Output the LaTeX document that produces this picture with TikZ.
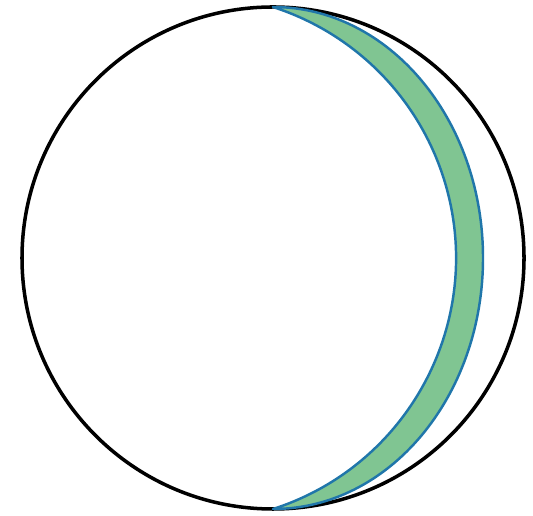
\documentclass[tikz,border=0pt]{standalone}
\usepackage{tikz}
\definecolor{lunefill}{RGB}{128,197,146}
\definecolor{lunedraw}{RGB}{32,118,170}
\begin{document}
\begin{tikzpicture}[x=0.02cm, y=0.02cm]
  \tikzstyle{sphere}=[draw=black, line width=2pt]
  \tikzstyle{lune}=[draw=lunedraw, fill=lunefill, line width=1.4pt, line join=round]
  \useasboundingbox (0,0) rectangle (533,516);

  \coordinate (c) at (273,258);
  \coordinate (top) at (273,509);
  \draw[sphere] (c) circle (251);

  % lune: outer half ellipse, inner circular arc back to the top
  \draw[lune] (top) arc[start angle=90, end angle=-90, x radius=210, y radius=251]
              arc[start angle=-72.2, end angle=72.2, radius=263.6] -- cycle;
\end{tikzpicture}
\end{document}
